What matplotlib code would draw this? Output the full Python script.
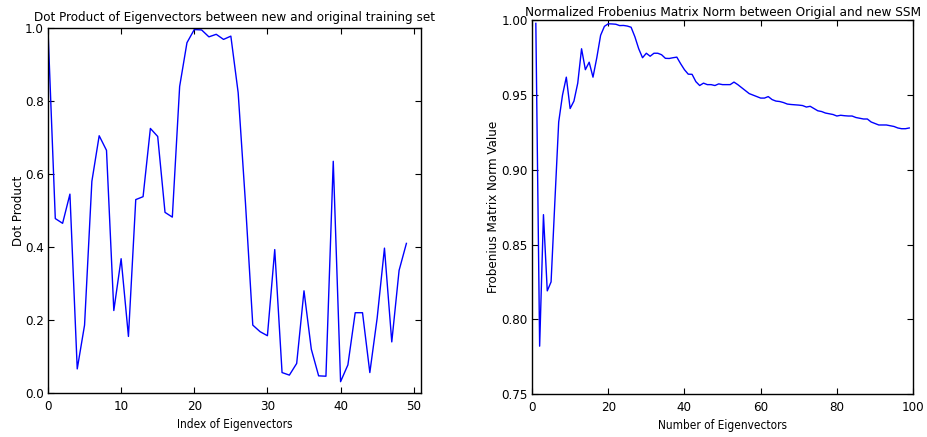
import numpy as np
import matplotlib
matplotlib.use("Agg")
import matplotlib.pyplot as plt

# left panel: dot product per eigenvector index
dot_index = list(range(50))
dot_values = [
    0.997, 0.478, 0.465, 0.545, 0.066, 0.186, 0.58, 0.705, 0.665, 0.226,
    0.368, 0.155, 0.53, 0.538, 0.725, 0.703, 0.495, 0.482, 0.84, 0.96,
    0.996, 0.995, 0.976, 0.983, 0.969, 0.978, 0.823, 0.52, 0.186, 0.168,
    0.157, 0.393, 0.056, 0.049, 0.081, 0.28, 0.12, 0.047, 0.046, 0.635,
    0.031, 0.077, 0.22, 0.22, 0.056, 0.205, 0.397, 0.14, 0.336, 0.41,
]

# right panel: normalized Frobenius norm vs number of eigenvectors
n_eig = list(range(1, 100))
frob_values = [
    0.998, 0.782, 0.870, 0.819, 0.825, 0.879, 0.932, 0.950, 0.962, 0.941,
    0.946, 0.958, 0.981, 0.967, 0.972, 0.962, 0.975, 0.990, 0.996, 0.9977,
    0.9976, 0.9974, 0.9965, 0.9966, 0.9962, 0.9954, 0.989, 0.981, 0.975, 0.978,
    0.976, 0.978, 0.978, 0.977, 0.9746, 0.9745, 0.9750, 0.9754, 0.971, 0.967,
    0.964, 0.9639, 0.959, 0.9564, 0.958, 0.957, 0.957, 0.9564, 0.9575, 0.957,
    0.957, 0.957, 0.9587, 0.957, 0.955, 0.953, 0.951, 0.950, 0.949, 0.948,
    0.948, 0.949, 0.947, 0.946, 0.9457, 0.945, 0.944, 0.9437, 0.9435, 0.9433,
    0.943, 0.942, 0.9425, 0.941, 0.9395, 0.939, 0.938, 0.9375, 0.937, 0.936,
    0.9365, 0.9362, 0.936, 0.936, 0.935, 0.9345, 0.934, 0.934, 0.932, 0.931,
    0.930, 0.930, 0.930, 0.9295, 0.929, 0.928, 0.9275, 0.9275, 0.928,
]

plt.rcParams.update({
    "font.family": "DejaVu Sans",
    "font.stretch": "condensed",
    "font.size": 9.5,
    "xtick.direction": "in",
    "ytick.direction": "in",
    "xtick.top": True,
    "ytick.right": True,
    "xtick.major.size": 4,
    "ytick.major.size": 4,
    "xtick.major.pad": 5,
    "ytick.major.pad": 3,
    "axes.linewidth": 1.0,
    "axes.edgecolor": "black",
})

fig = plt.figure(figsize=(9.28, 4.37), dpi=100)

ax1 = fig.add_axes([0.0517, 0.1007, 0.402, 0.835])
ax1.plot(dot_index, dot_values, color="blue", linewidth=1.0)
ax1.set_xlim(0, 51)
ax1.set_ylim(0, 1.0)
ax1.set_xticks([0, 10, 20, 30, 40, 50])
ax1.set_yticks([0.0, 0.2, 0.4, 0.6, 0.8, 1.0])
ax1.set_yticklabels(["0.0", "0.2", "0.4", "0.6", "0.8", "1.0"])
ax1.set_xlabel("Index of Eigenvectors", fontsize=8.5)
ax1.set_ylabel("Dot Product", fontsize=9.5, labelpad=0)
ax1.set_title("Dot Product of Eigenvectors between new and original training set",
              fontsize=9.6, pad=5)

ax2 = fig.add_axes([0.5733, 0.0984, 0.4106, 0.855])
ax2.plot(n_eig, frob_values, color="blue", linewidth=1.0)
ax2.set_xlim(0, 100)
ax2.set_ylim(0.75, 1.0)
ax2.set_xticks([0, 20, 40, 60, 80, 100])
ax2.set_yticks([0.75, 0.80, 0.85, 0.90, 0.95, 1.00])
ax2.set_yticklabels(["0.75", "0.80", "0.85", "0.90", "0.95", "1.00"])
ax2.set_xlabel("Number of Eigenvectors", fontsize=8.5)
ax2.set_ylabel("Frobenius Matrix Norm Value", fontsize=9.5, labelpad=1)
ax2.set_title("Normalized Frobenius Matrix Norm between Origial and new SSM",
              fontsize=9.7, pad=3)

fig.savefig("out.png", dpi=100)
